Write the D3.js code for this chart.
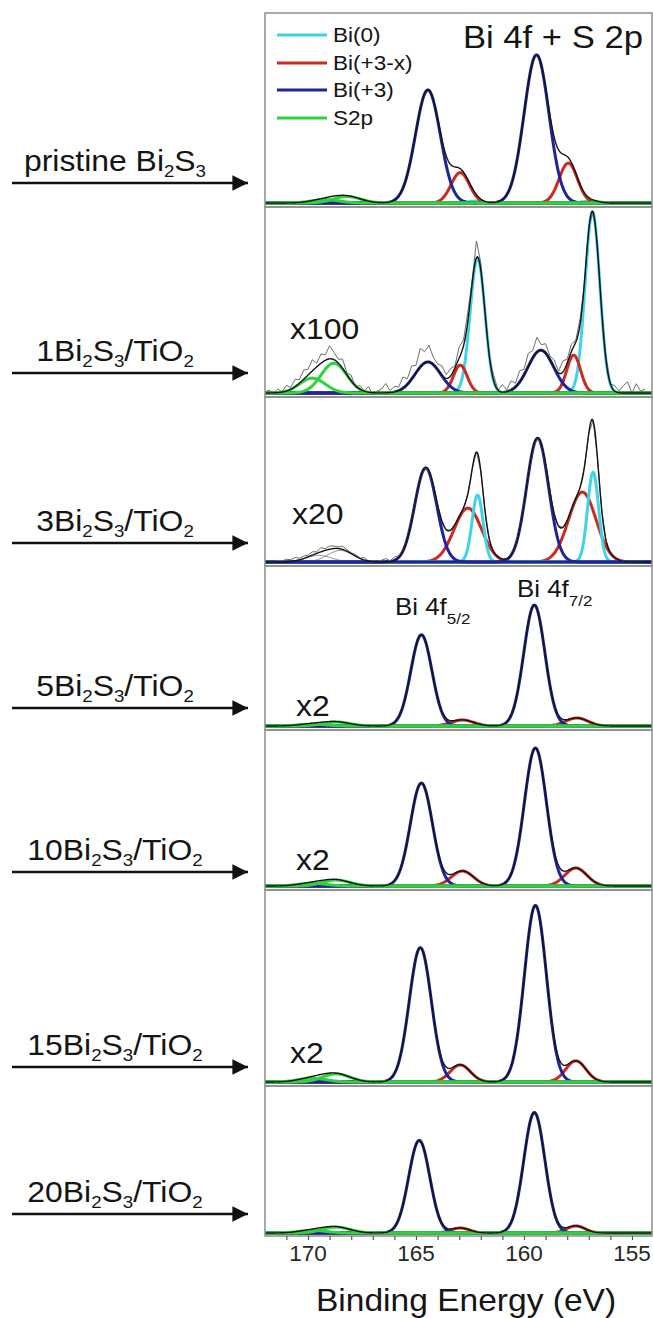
<!DOCTYPE html>
<html>
<head>
<meta charset="utf-8">
<script src="https://cdn.jsdelivr.net/npm/d3@7"></script>
<style>
  body { margin: 0; background: #fff; }
  svg { display: block; font-family: "Liberation Sans", Arial, Helvetica, sans-serif; }
</style>
</head>
<body>
<svg id="chart" width="653" height="1318"></svg>
<script>
// ---- Samples (top to bottom) ----
const sampleLabels = [
  [["pristine Bi", 0], ["2", 1], ["S", 0], ["3", 1]],
  [["1Bi", 0], ["2", 1], ["S", 0], ["3", 1], ["/TiO", 0], ["2", 1]],
  [["3Bi", 0], ["2", 1], ["S", 0], ["3", 1], ["/TiO", 0], ["2", 1]],
  [["5Bi", 0], ["2", 1], ["S", 0], ["3", 1], ["/TiO", 0], ["2", 1]],
  [["10Bi", 0], ["2", 1], ["S", 0], ["3", 1], ["/TiO", 0], ["2", 1]],
  [["15Bi", 0], ["2", 1], ["S", 0], ["3", 1], ["/TiO", 0], ["2", 1]],
  [["20Bi", 0], ["2", 1], ["S", 0], ["3", 1], ["/TiO", 0], ["2", 1]]
];
const multipliers = ["", "x100", "x20", "x2", "x2", "x2", ""];

// ---- Fitted components: [binding energy (eV), height (% of strip), FWHM (eV)] ----
const bi0Peaks = [
  [[162.25, 1.0, 0.8], [156.9, 1.2, 0.8]],
  [[162.15, 72.6, 0.8], [156.83, 97.3, 0.8]],
  [[162.15, 40.6, 0.6], [156.8, 54.5, 0.6]],
  [], [], [], []
];
const bi3xPeaks = [
  [[162.95, 16.0, 1.0], [157.95, 21.0, 1.0]],
  [[162.95, 15.0, 0.75], [157.7, 20.4, 0.75]],
  [[162.6, 32.7, 1.5], [157.3, 42.4, 1.5]],
  [[162.85, 3.8, 1.2], [157.55, 5.0, 1.2]],
  [[162.85, 9.6, 1.2], [157.6, 11.5, 1.2]],
  [[162.95, 8.9, 1.1], [157.6, 11.0, 1.1]],
  [[162.95, 3.4, 1.0], [157.6, 4.8, 1.0]]
];
const bi3Peaks = [
  [[164.45, 59.5, 1.35], [159.42, 78.0, 1.35]],
  [[164.45, 16.7, 1.4], [159.22, 23.0, 1.4]],
  [[164.55, 57.0, 1.2], [159.37, 75.0, 1.2]],
  [[164.75, 57.0, 1.15], [159.52, 75.6, 1.15]],
  [[164.75, 66.0, 1.2], [159.47, 88.5, 1.2]],
  [[164.8, 70.0, 1.2], [159.47, 92.0, 1.2]],
  [[164.85, 63.0, 1.15], [159.52, 82.0, 1.15]]
];
const s2pPeaks = [
  [[168.2, 3.4, 1.5], [169.2, 1.8, 1.5]],
  [[168.8, 16.0, 1.4], [169.8, 8.0, 1.4]],
  [[168.5, 7.0, 1.4], [169.5, 4.0, 1.4]],
  [[168.7, 2.5, 1.5], [169.8, 1.2, 1.5]],
  [[168.7, 3.8, 1.5], [169.8, 1.8, 1.5]],
  [[168.7, 4.2, 1.5], [169.8, 2.0, 1.5]],
  [[168.7, 4.0, 1.5], [169.8, 1.8, 1.5]]
];

// ---- Measured-minus-fit residuals, every 0.2 eV from 172.0 down to 154.4 eV ----
const residual1 = [
  0.5, 1.5, -0.5, 2, 0, 3, 1, 4, 2, 5, 3,
  6, 2, 5, 3, 7, 4, 2, 5, 1, 3,
  -1, 2, 0, 3, -1, 1, 2, 5, 1, 3,
  2, 6, 3, 7, 4, 10, 6, 9, 4, 3,
  5, 2, 4, 1, 6, 3, 5, 2, 9, 4,
  2, -1, 3, 0, 4, 1, 5, 2, 6, 3,
  7, 4, 8, 3, 5, 2, 4, 1, 6, 2,
  4, 1, 3, -1, 2, 0, 3, 1, 2, 0,
  3, 1, 4, 6, 0, 5, 1, 2
];
const residual3 = [
  0, 0.5, 0, 1, 0.5, 1.5, 1, 2, 1, 1.5, 1,
  2, 1, 2.5, 1, 2, 1.5, 1, 2, 1, 0.5,
  1, 0, 1.5, 0, 0.5, 0, 1, 2, 0.5, 2,
  1, 0.5, 0, 0, 0, 0.5, 0, 0, 0, 0,
  0, 0, 0, 0, 0, 0, 0, 0, 0, 0,
  0, 0, 0, 0, 0, 0, 0, 0, 0, 0,
  0, 0, 0, 0, 0, 0, 0, 0, 0, 0,
  0, 0, 0, 0, 0, 0, 0, 0, 0, 0,
  0, 0, 0, 0, 0, 0, 0, 0
];
const residuals = [null, residual1, residual3, null, null, null, null];

// ---- Axis ----
const majorTicks = [170, 165, 160, 155];
const axisTitle = "Binding Energy (eV)";
const legendItems = ["Bi(0)", "Bi(+3-x)", "Bi(+3)", "S2p"];

// ---- Layout ----
const stripTop    = [13, 207, 397, 566, 730, 890, 1086];
const stripBottom = [207, 397, 566, 730, 890, 1086, 1236];
const arrowY      = [183, 373, 543, 708, 872, 1067, 1214];
const multPos     = [null, [290, 339], [292, 524], [296, 716], [296, 870], [290, 1063], null];
const left = 265, right = 652;
const textStretch = 1.1;   // lettering is set slightly wide

const colors = {
  bi0: "#3fd3ea", bi3x: "#cc2a1f", bi3: "#1e2596", s2p: "#2ed23c",
  s2pGrey: "#8a8a8a", fit: "#151515", raw: "#6e6e6e", frame: "#8d8d8d"
};

const svg = d3.select("#chart");
const x = d3.scaleLinear().domain([172, 154.05]).range([264.8, 652.5]);

const gauss = (e, [c, h, w]) => h * Math.exp(-4 * Math.LN2 * ((e - c) / w) ** 2);
const sumOf = (peaks) => (e) => d3.sum(peaks, p => gauss(e, p));
const energyGrid = d3.range(172.2, 153.9, -0.04);
const rawGrid = d3.range(0, 89).map(i => 172 - 0.2 * i);

// wide-set text placed at (tx, ty)
function label(tx, ty, size, anchor, stretch) {
  return svg.append("text")
    .attr("transform", `translate(${tx},${ty}) scale(${stretch || textStretch},1)`)
    .attr("text-anchor", anchor || "start").attr("font-size", size).attr("fill", "#151515");
}

// arrow head marker
svg.append("defs").append("marker")
  .attr("id", "head").attr("viewBox", "0 0 10 10").attr("refX", 10).attr("refY", 5)
  .attr("markerWidth", 8.5).attr("markerHeight", 6.5).attr("markerUnits", "strokeWidth")
  .attr("orient", "auto")
  .append("path").attr("d", "M0,0 L10,5 L0,10 Z").attr("fill", "#111");

sampleLabels.forEach((parts, i) => {
  const top = stripTop[i], bottom = stripBottom[i];
  const base = bottom - (i === 6 ? 3 : 4);
  const y = d3.scaleLinear().domain([0, 100]).range([base, top]);
  const line = d3.line().x(d => x(d[0])).y(d => y(d[1]));

  const clipId = "clip" + i;
  svg.append("clipPath").attr("id", clipId)
    .append("rect").attr("x", left).attr("y", top).attr("width", right - left).attr("height", bottom - top);

  const g = svg.append("g").attr("clip-path", `url(#${clipId})`);
  const curve = (peaks, color, width) => {
    const f = sumOf(peaks);
    g.append("path").datum(energyGrid.map(e => [e, f(e)]))
      .attr("d", line).attr("fill", "none").attr("stroke", color)
      .attr("stroke-width", width).attr("stroke-linejoin", "round");
  };
  const each = (peaks, color, width) => peaks.forEach(p => curve([p], color, width));

  if (i === 2) {
    each(s2pPeaks[i], colors.s2pGrey, 1);
    each(bi3xPeaks[i], colors.bi3x, 3);
    each(bi0Peaks[i], colors.bi0, 3);
    each(bi3Peaks[i], colors.bi3, 3);
  } else {
    each(bi0Peaks[i], colors.bi0, 3);
    each(bi3xPeaks[i], colors.bi3x, 3);
    each(bi3Peaks[i], colors.bi3, 3);
    each(s2pPeaks[i], colors.s2p, 3);
  }

  const all = [].concat(bi0Peaks[i], bi3xPeaks[i], bi3Peaks[i], s2pPeaks[i]);
  const total = sumOf(all);
  if (residuals[i]) {
    g.append("path").datum(rawGrid.map((e, k) => [e, total(e) + residuals[i][k]]))
      .attr("d", line).attr("fill", "none").attr("stroke", colors.raw).attr("stroke-width", 1);
  }
  curve(all, colors.fit, 1.4);

  // strip frame
  svg.append("rect").attr("x", left).attr("y", top).attr("width", right - left).attr("height", bottom - top)
    .attr("fill", "none").attr("stroke", colors.frame).attr("stroke-width", 1.5);

  // sample arrow + label
  svg.append("line").attr("x1", 12).attr("x2", 248).attr("y1", arrowY[i]).attr("y2", arrowY[i])
    .attr("stroke", "#111").attr("stroke-width", 2.4).attr("marker-end", "url(#head)");
  const t = label(115, arrowY[i] - 12, 29, "middle");
  let shifted = false;
  parts.forEach(([s, sub]) => {
    const ts = t.append("tspan").text(s);
    if (sub) { ts.attr("font-size", 17).attr("dy", shifted ? 0 : 6); shifted = true; }
    else if (shifted) { ts.attr("dy", -6); shifted = false; }
  });

  if (multipliers[i]) {
    label(multPos[i][0], multPos[i][1], 29).text(multipliers[i]);
  }
});

// bottom axis
const axis = svg.append("g").attr("transform", `translate(0,${stripBottom[6]})`);
axis.call(d3.axisBottom(x).tickValues(d3.range(171, 154, -1)).tickSize(4).tickFormat(""))
  .call(a => a.select(".domain").remove())
  .call(a => a.selectAll("line").attr("stroke", "#555").attr("stroke-width", 1.2));
majorTicks.forEach(v => label(x(v), stripBottom[6] + 25, 22.5, "middle", 1).attr("fill", "#262626").text(v));
label(466, 1311, 30.5, "middle").text(axisTitle);

// legend
const legendColors = [colors.bi0, colors.bi3x, colors.bi3, colors.s2p];
const legendY = [35, 63, 90, 118];
legendItems.forEach((name, k) => {
  svg.append("line").attr("x1", 277).attr("x2", 327).attr("y1", legendY[k]).attr("y2", legendY[k])
    .attr("stroke", legendColors[k]).attr("stroke-width", 3);
  label(333, legendY[k] + 7, 20.5).text(name);
});
label(643, 48, 31.5, "end").text("Bi 4f + S 2p");

// doublet labels
const doublet = [["5/2", 395, 615], ["7/2", 517, 597]];
doublet.forEach(([j, lx, ly]) => {
  const t = label(lx, ly, 23.5);
  t.append("tspan").text("Bi 4f");
  t.append("tspan").attr("font-size", 15.5).attr("dy", 9).text(j);
});
</script>
</body>
</html>
